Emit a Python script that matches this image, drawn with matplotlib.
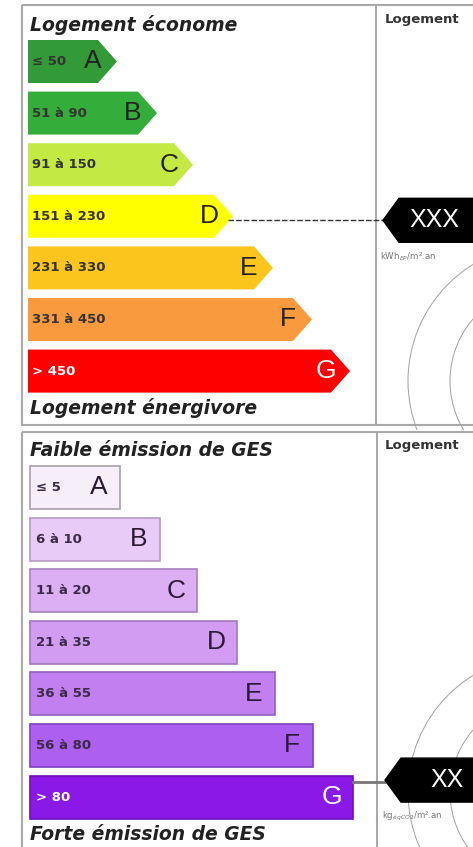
import numpy as np
import matplotlib
matplotlib.use("Agg")
import matplotlib.pyplot as plt
from matplotlib.patches import Polygon, Rectangle, Circle

# --- label data ---------------------------------------------------------------------
letters = ["A", "B", "C", "D", "E", "F", "G"]

energy_ranges = ["≤ 50", "51 à 90", "91 à 150", "151 à 230", "231 à 330", "331 à 450", "> 450"]
energy_len = [117, 157, 193, 233, 273, 312, 350]      # arrow tip, px
energy_colors = ["#339a38", "#35ad3a", "#c3ea43", "#ffff00", "#fbc51e", "#f99a3e", "#ff0000"]
energy_value = "XXX"
energy_class = "D"

ges_ranges = ["≤ 5", "6 à 10", "11 à 20", "21 à 35", "36 à 55", "56 à 80", "> 80"]
ges_len = [120, 160, 197, 237, 275, 313, 353]         # bar end, px
ges_colors = ["#f6eef9", "#e8cbf6", "#dcaef4", "#d19cf2", "#c17ff0", "#ad5ff0", "#8a18e6"]
ges_edges = ["#a8a0ac", "#b69ac4", "#a880c0", "#a078c0", "#9060c0", "#7d40c0", "#6a10b8"]
ges_value = "XX"
ges_class = "G"

W, H = 473, 847
fig = plt.figure(figsize=(W / 100, H / 100), dpi=100)
ax = fig.add_axes([0, 0, 1, 1])
ax.set_xlim(0, W)
ax.set_ylim(H, 0)
ax.axis("off")

frame = "#a9a9a9"
head = dict(fontsize=13.5, fontweight="bold", fontstyle="italic", color="#222222",
            family="DejaVu Sans", va="center", ha="left")
big = dict(family="Liberation Sans", fontsize=19, va="center", ha="center")
small = dict(family="DejaVu Sans", fontsize=9.5, fontweight="bold", va="center", ha="left")

PITCH, BH = 51.6, 43


def value_arrow(y, x_tip, text, unit, x_text):
    pts = [(x_tip, y), (x_tip + 16, y - 22), (W + 5, y - 22), (W + 5, y + 22), (x_tip + 16, y + 22)]
    ax.add_patch(Polygon(pts, closed=True, fc="black", ec="black", zorder=5))
    ax.text(x_text, y, text, color="white", zorder=6, **dict(big, fontsize=18))
    ax.text(x_tip - 3, y + 36, unit, fontsize=6.2, color="#777777", va="center", ha="left")


def rings(cx, cy, clip):
    for r in (95, 137):
        c = Circle((cx, cy), r, fill=False, ec="#a0a0a0", lw=0.7, zorder=1)
        ax.add_patch(c)
        c.set_clip_path(clip)


# --- top panel: energy ------------------------------------------------------------
ax.add_patch(Rectangle((22, 5), W, 420, fill=False, ec=frame, lw=1.5))
ax.plot([376, 376], [5, 425], color=frame, lw=1.5)
clip_top = Rectangle((377, 5), W, 425, transform=ax.transData)
rings(545, 381, clip_top)

ax.text(30, 25, "Logement économe", **head)
ax.text(30, 408, "Logement énergivore", **head)
ax.text(385, 20, "Logement", fontsize=9.5, fontweight="bold", color="#333333", va="center")

for i, (lab, rng, tip, col) in enumerate(zip(letters, energy_ranges, energy_len, energy_colors)):
    y0 = 40 + i * PITCH
    yc = y0 + BH / 2
    pts = [(28, y0), (tip - 19, y0), (tip, yc), (tip - 19, y0 + BH), (28, y0 + BH)]
    ax.add_patch(Polygon(pts, closed=True, fc=col, ec="none", zorder=2))
    tc = "white" if lab == "G" else "#222222"
    ax.text(32, yc, rng, color="white" if lab == "G" else "#333333", zorder=3, **small)
    ax.text(tip - 24, yc, lab, color=tc, zorder=3, **big)
    if lab == energy_class:
        ax.plot([tip - 5, 383], [yc + 4, yc + 4], color="#333333", lw=1, ls=(0, (4, 1.5)), zorder=3)
        value_arrow(yc + 4, 383, energy_value, r"kWh$_{EP}$/m².an", 434)

# --- bottom panel: GES ------------------------------------------------------------
ax.add_patch(Rectangle((22, 432), W, 430, fill=False, ec=frame, lw=1.5))
ax.plot([377, 377], [432, H], color=frame, lw=1.5)
clip_bot = Rectangle((378, 432), W, 430, transform=ax.transData)
rings(545, 792, clip_bot)

ax.text(30, 450, "Faible émission de GES", **head)
ax.text(30, 835, "Forte émission de GES", **head)
ax.text(385, 446, "Logement", fontsize=9.5, fontweight="bold", color="#333333", va="center")

for i, (lab, rng, end, col, ec) in enumerate(zip(letters, ges_ranges, ges_len, ges_colors, ges_edges)):
    y0 = 466 + i * PITCH
    yc = y0 + BH / 2
    ax.add_patch(Rectangle((30, y0), end - 30, BH, fc=col, ec=ec, lw=1.2, zorder=2))
    tc = "white" if lab == "G" else "#2a1a33"
    ax.text(36, yc, rng, color="white" if lab == "G" else "#3a2a44", zorder=3, **small)
    ax.text(end - 21, yc, lab, color=tc, zorder=3, **big)
    if lab == ges_class:
        ax.plot([end, 385], [yc - 15, yc - 15], color="#777777", lw=2, zorder=3)
        value_arrow(yc - 17, 385, ges_value, r"kg$_{éqCO2}$/m².an", 447)

fig.savefig("out.png", dpi=100)
